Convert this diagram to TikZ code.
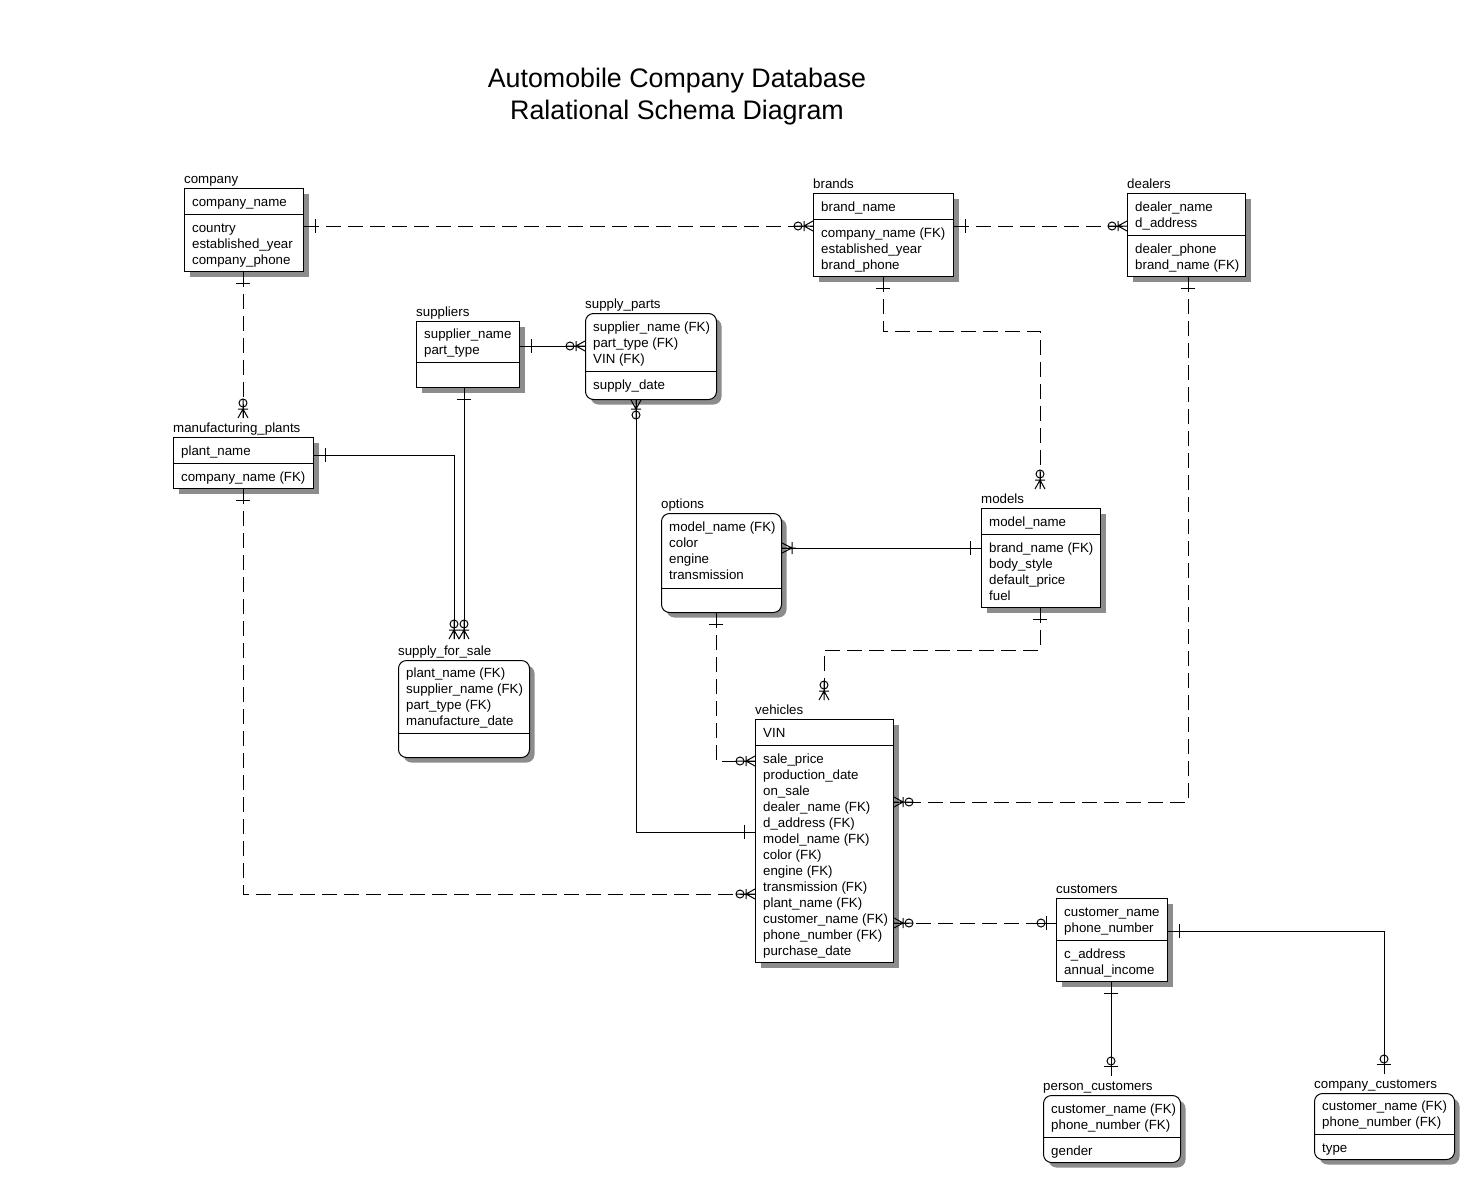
\documentclass[tikz,border=0pt]{standalone}
\usepackage{fontspec}
\setmainfont{Liberation Sans}
\usetikzlibrary{calc,shadows}
\tikzset{
 ebox/.style={draw, line width=1pt, fill=white, inner sep=0pt, anchor=north west,
   drop shadow={shadow xshift=5pt, shadow yshift=-5pt, fill=black!45, opacity=1}},
 dbox/.style={ebox, rounded corners=8pt},
 attr/.style={anchor=base west, inner sep=0pt, font=\fontsize{13.3}{16}\selectfont},
 lbl/.style={attr},
 conn/.style={line width=1pt},
 dconn/.style={conn, dash pattern=on 15pt off 7pt},
 ttl/.style={anchor=base, inner sep=0pt, font=\fontsize{26.8}{32}\selectfont},
}
\newcommand\entbox[8]{%
 \node[#2, minimum width=#5-#3, minimum height=#6-#4] (#1) at (#3,#4) {};
 \node[lbl] (#1-lbl) at (#3,#4-5) {#8};
 \draw[line width=1pt] (#1.west |- 0,#7) -- (#1.east |- 0,#7);
}
\newcommand\rows[4]{%
 \foreach \txt [count=\i from 0] in {#4} {\node[attr] (#1-\i) at (#2,#3+16*\i) {\txt};}
}
\newcommand\sOne[2]{\begin{scope}[shift={#1},rotate=#2]\draw[conn] (0,0)--(14,0) (11,-7)--(11,7);\end{scope}}
\newcommand\sZM[2]{\begin{scope}[shift={#1},rotate=#2]\draw[conn] (0,0)--(19,0) (0,-5)--(9,0)--(0,5) (9,-5)--(9,5); \draw[conn] (15,0) circle[radius=4];\end{scope}}
\newcommand\sOM[2]{\begin{scope}[shift={#1},rotate=#2]\draw[conn] (0,0)--(14,0) (0,-5)--(10,0)--(0,5) (10,-6)--(10,6);\end{scope}}
\newcommand\sZO[2]{\begin{scope}[shift={#1},rotate=#2]\draw[conn] (0,0)--(19,0) (10,-7)--(10,7); \draw[conn] (15,0) circle[radius=4];\end{scope}}
\begin{document}
\begin{tikzpicture}[x=1pt,y=-1pt]
\useasboundingbox (0,0) rectangle (1469,1178);
\node[ttl] (title1) at (677,87) {Automobile Company Database};
\node[ttl] (title2) at (677,119) {Ralational Schema Diagram};

\entbox{company}{ebox}{184}{188}{303}{271}{214}{company}
\rows{company-k}{192}{206}{company\_name}
\rows{company-a}{192}{232}{country,established\_year,company\_phone}

\entbox{brands}{ebox}{813}{193}{953}{276}{219}{brands}
\rows{brands-k}{821}{211}{brand\_name}
\rows{brands-a}{821}{237}{company\_name (FK),established\_year,brand\_phone}

\entbox{dealers}{ebox}{1127}{193}{1245}{276}{235}{dealers}
\rows{dealers-k}{1135}{211}{dealer\_name,d\_address}
\rows{dealers-a}{1135}{253}{dealer\_phone,brand\_name (FK)}

\entbox{suppliers}{ebox}{416}{321}{519}{387}{362}{suppliers}
\rows{suppliers-k}{424}{338}{supplier\_name,part\_type}

\entbox{sparts}{dbox}{585}{313}{716}{399}{371}{supply\_parts}
\rows{sparts-k}{593}{331}{supplier\_name (FK),part\_type (FK),VIN (FK)}
\rows{sparts-a}{593}{389}{supply\_date}

\entbox{mplants}{ebox}{173}{437}{313}{488}{463}{manufacturing\_plants}
\rows{mplants-k}{181}{455}{plant\_name}
\rows{mplants-a}{181}{481}{company\_name (FK)}

\entbox{sfs}{dbox}{398}{660}{529}{757}{733}{supply\_for\_sale}
\rows{sfs-k}{406}{677}{plant\_name (FK),supplier\_name (FK),part\_type (FK),manufacture\_date}

\entbox{options}{dbox}{661}{513}{781}{612}{588}{options}
\rows{options-k}{669}{531}{model\_name (FK),color,engine,transmission}

\entbox{models}{ebox}{981}{508}{1100}{607}{534}{models}
\rows{models-k}{989}{526}{model\_name}
\rows{models-a}{989}{552}{brand\_name (FK),body\_style,default\_price,fuel}

\entbox{vehicles}{ebox}{755}{719}{893}{962}{745}{vehicles}
\rows{vehicles-k}{763}{737}{VIN}
\rows{vehicles-a}{763}{763}{sale\_price,production\_date,on\_sale,dealer\_name (FK),d\_address (FK),model\_name (FK),color (FK),engine (FK),transmission (FK),plant\_name (FK),customer\_name (FK),phone\_number (FK),purchase\_date}

\entbox{customers}{ebox}{1056}{898}{1167}{981}{940}{customers}
\rows{customers-k}{1064}{916}{customer\_name,phone\_number}
\rows{customers-a}{1064}{958}{c\_address,annual\_income}

\entbox{pcust}{dbox}{1043}{1095}{1180}{1162}{1137}{person\_customers}
\rows{pcust-k}{1051}{1113}{customer\_name (FK),phone\_number (FK)}
\rows{pcust-a}{1051}{1155}{gender}

\entbox{ccust}{dbox}{1314}{1093}{1454}{1159}{1134}{company\_customers}
\rows{ccust-k}{1322}{1110}{customer\_name (FK),phone\_number (FK)}
\rows{ccust-a}{1322}{1152}{type}

% company - brands
\draw[dconn] (company.east |- 0,226) -- (brands.west |- 0,226);
\sOne{(company.east |- 0,226)}{0}
\sZM{(brands.west |- 0,226)}{180}
% brands - dealers
\draw[dconn] (brands.east |- 0,226) -- (dealers.west |- 0,226);
\sOne{(brands.east |- 0,226)}{0}
\sZM{(dealers.west |- 0,226)}{180}
% company - manufacturing_plants
\draw[dconn] (company.south -| 243,0) -- ($(mplants.north -| 243,0)+(0,-19)$);
\sOne{(company.south -| 243,0)}{-90}
\sZM{($(mplants.north -| 243,0)+(0,-19)$)}{90}
% brands - models
\draw[dconn] (brands.south -| 883,0) -- (883,331) -- (1040,331) -- ($(models.north -| 1040,0)+(0,-19)$);
\sOne{(brands.south -| 883,0)}{-90}
\sZM{($(models.north -| 1040,0)+(0,-19)$)}{90}
% dealers - vehicles
\draw[dconn] (dealers.south -| 1188,0) -- (1188,802) -- (vehicles.east |- 0,802);
\sOne{(dealers.south -| 1188,0)}{-90}
\sZM{(vehicles.east |- 0,802)}{0}
% suppliers - supply_parts
\draw[conn] (suppliers.east |- 0,346) -- (sparts.west |- 0,346);
\sOne{(suppliers.east |- 0,346)}{0}
\sZM{(sparts.west |- 0,346)}{180}
% suppliers - supply_for_sale
\draw[conn] (suppliers.south -| 464,0) -- ($(sfs.north -| 464,0)+(0,-21)$);
\sOne{(suppliers.south -| 464,0)}{-90}
\sZM{($(sfs.north -| 464,0)+(0,-21)$)}{90}
% manufacturing_plants - supply_for_sale
\draw[conn] (mplants.east |- 0,455) -- (454,455) -- ($(sfs.north -| 454,0)+(0,-21)$);
\sOne{(mplants.east |- 0,455)}{0}
\sZM{($(sfs.north -| 454,0)+(0,-21)$)}{90}
% manufacturing_plants - vehicles
\draw[dconn] (mplants.south -| 243,0) -- (243,894) -- (vehicles.west |- 0,894);
\sOne{(mplants.south -| 243,0)}{-90}
\sZM{(vehicles.west |- 0,894)}{180}
% supply_parts - vehicles
\draw[conn] (sparts.south -| 636,0) -- (636,832) -- (vehicles.west |- 0,832);
\sZM{(sparts.south -| 636,0)}{-90}
\sOne{(vehicles.west |- 0,832)}{180}
% options - models
\draw[conn] (options.east |- 0,548) -- (models.west |- 0,548);
\sOM{(options.east |- 0,548)}{0}
\sOne{(models.west |- 0,548)}{180}
% options - vehicles
\draw[dconn] (options.south -| 716,0) -- (716,761) -- (vehicles.west |- 0,761);
\sOne{(options.south -| 716,0)}{-90}
\sZM{(vehicles.west |- 0,761)}{180}
% models - vehicles
\draw[dconn] (models.south -| 1040,0) -- (1040,650) -- (824,650) -- ($(vehicles.north -| 824,0)+(0,-19)$);
\sOne{(models.south -| 1040,0)}{-90}
\sZM{($(vehicles.north -| 824,0)+(0,-19)$)}{90}
% vehicles - customers
\draw[dconn] (vehicles.east |- 0,923) -- (customers.west |- 0,923);
\sZM{(vehicles.east |- 0,923)}{0}
\sZO{(customers.west |- 0,923)}{180}
% customers - person_customers
\draw[conn] (customers.south -| 1111,0) -- ($(pcust.north -| 1111,0)+(0,-19)$);
\sOne{(customers.south -| 1111,0)}{-90}
\sZO{($(pcust.north -| 1111,0)+(0,-19)$)}{90}
% customers - company_customers
\draw[conn] (customers.east |- 0,931) -- (1384,931) -- ($(ccust.north -| 1384,0)+(0,-19)$);
\sOne{(customers.east |- 0,931)}{0}
\sZO{($(ccust.north -| 1384,0)+(0,-19)$)}{90}
\end{tikzpicture}
\end{document}
